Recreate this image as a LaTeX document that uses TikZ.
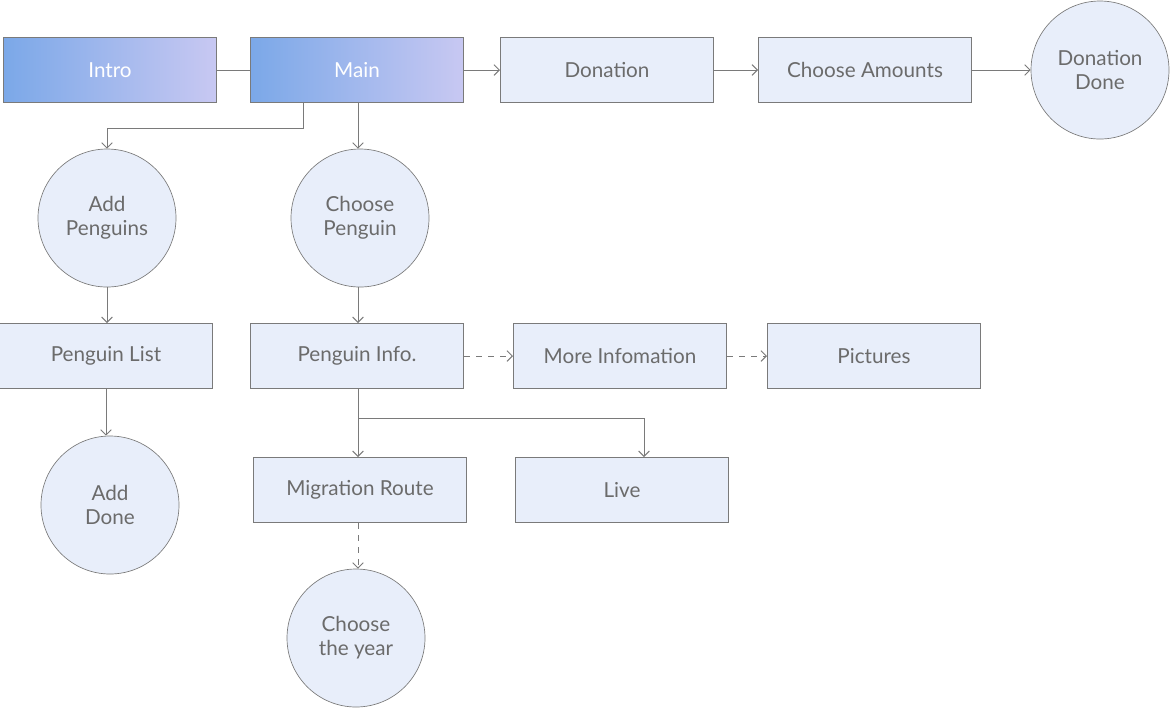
\documentclass[tikz,border=0pt]{standalone}
\usepackage{fontspec}
\setmainfont{Lato}
\usepackage{tikz}
\usetikzlibrary{arrows.meta}

\definecolor{boxfill}{HTML}{E8EEFA}
\definecolor{boxline}{HTML}{7A7A7A}
\definecolor{boxtext}{HTML}{6B6B6B}
\definecolor{gradleft}{HTML}{7BA8E8}
\definecolor{gradright}{HTML}{C8C8F2}

\begin{document}
\begin{tikzpicture}[x=0.75pt,y=0.75pt,yscale=-1,xscale=1,
    box/.style={draw=boxline, fill=boxfill, line width=0.75, text=boxtext, inner sep=0pt,
        minimum width=159.75pt, minimum height=48.75pt, font=\fontsize{15.5}{18}\selectfont},
    topbox/.style={box, left color=gradleft, right color=gradright, text=white},
    ball/.style={circle, draw=boxline, fill=boxfill, line width=0.5, text=boxtext, inner sep=0pt,
        minimum size=103.5pt, align=center, font=\fontsize{15.5}{18}\selectfont},
    link/.style={draw=boxline, line width=0.75, -{Straight Barb[length=4pt,width=8pt]}},
    dlink/.style={link, dash pattern={on 4.5pt off 4.5pt}}]
    \useasboundingbox (0,0) rectangle (1171,708);
    
    % Top row
    \node [topbox] (intro) at (110,70) {Intro};
    \node [topbox] (main) at (357,70) {Main};
    \node [box] (donation) at (607,70) {Donation};
    \node [box] (amounts) at (865,70) {Choose Amounts};
    \node [ball] (dondone) at (1100,70) {Donation\\Done};
    
    % Circles
    \node [ball] (addpeng) at (107,218) {Add\\Penguins};
    \node [ball] (choosepeng) at (360,218) {Choose\\Penguin};
    
    % Middle row
    \node [box] (penglist) at (106,356) {Penguin List};
    \node [box] (penginfo) at (357,356) {Penguin Info.};
    \node [box] (moreinfo) at (620,356) {More Infomation};
    \node [box] (pictures) at (874,356) {Pictures};
    
    % Lower part
    \node [ball] (adddone) at (110,505) {Add\\Done};
    \node [box] (migration) at (360,490) {Migration Route};
    \node [box] (live) at (622,490) {Live};
    \node [ball] (year) at (356,638) {Choose\\the year};
    \coordinate (split) at (358,418);
    
    % Connectors
    \draw [draw=boxline, line width=0.75] (intro) -- (main);
    \draw [link] (main) -- (donation);
    \draw [link] (donation) -- (amounts);
    \draw [link] (amounts.east) -- (dondone.west);
    \draw [link] ([xshift=-40.5pt]main.south) -- ++(0,25) -| (addpeng.north);
    \draw [link] ([xshift=0.75pt]main.south) -- ([xshift=0.75pt]main.south |- choosepeng.north);
    \draw [link] (addpeng) -- (addpeng |- penglist.north);
    \draw [link] (choosepeng.south -| split) -- (penginfo.north -| split);
    \draw [link] (penglist) -- (penglist |- adddone.north);
    \draw [dlink] (penginfo) -- (moreinfo);
    \draw [dlink] (moreinfo) -- (pictures);
    \draw [draw=boxline, line width=0.75] (penginfo.south -| split) -- (split);
    \draw [link] (split) -- (split |- migration.north);
    \draw [link] (split) -| ([xshift=16.5pt]live.north);
    \draw [dlink] (migration.south -| split) -- (split |- year.north);
\end{tikzpicture}
\end{document}
